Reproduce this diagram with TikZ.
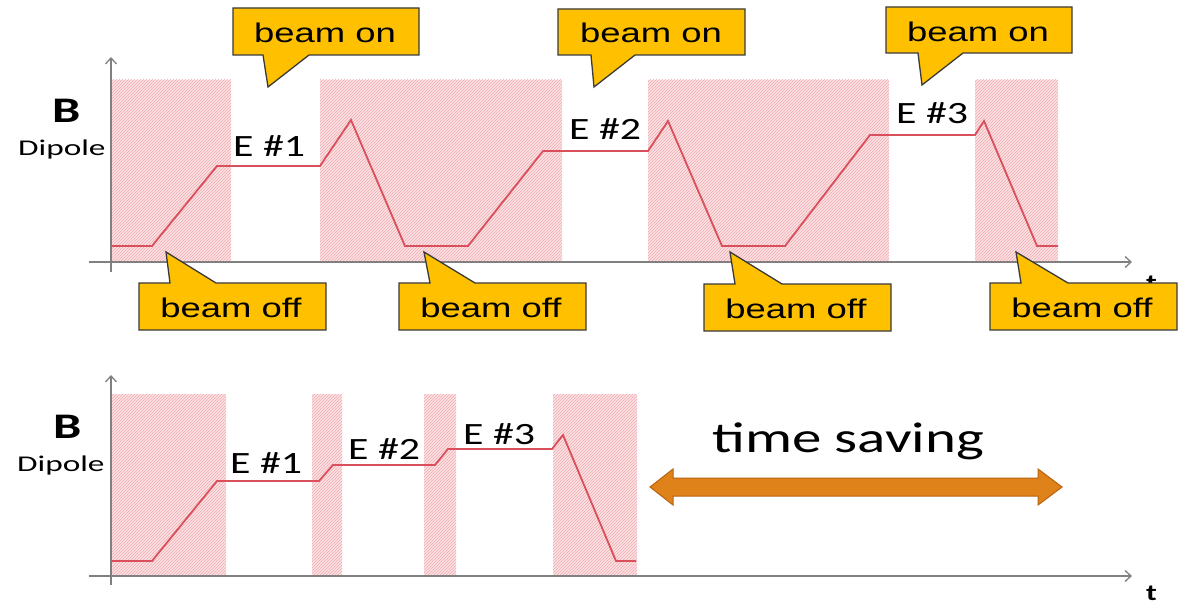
\documentclass[tikz,border=0pt]{standalone}
\usepackage{fontspec}
\setmainfont{Liberation Sans}
\newfontfamily\calfont{Carlito}
\usepackage{graphicx}
\usetikzlibrary{arrows.meta,patterns}
\definecolor{calloutfill}{HTML}{FFC000}
\definecolor{calloutline}{HTML}{3A3A3A}
\definecolor{shadefill}{HTML}{FBE2E4}
\definecolor{shadeline}{HTML}{F2ABB2}
\definecolor{curvecol}{HTML}{D9505C}
\definecolor{axiscol}{HTML}{808080}
\definecolor{arrowfill}{HTML}{E0821A}
\definecolor{arrowline}{HTML}{B8640E}
\newcommand\wid[2][1.35]{\scalebox{#1}[1]{#2}}
\begin{document}
\begin{tikzpicture}[x=1pt,y=-1pt,
  shadebox/.style={preaction={fill=shadefill}, pattern=north east lines, pattern color=shadeline},
  axisline/.style={draw=axiscol, line width=1.3pt, -{Straight Barb[length=6pt,width=11pt]}},
  curveline/.style={draw=curvecol, line width=1.8pt, line join=miter},
  callbox/.style={fill=calloutfill, draw=calloutline, line width=1.3pt, line join=miter},
  beamtxt/.style={inner sep=0pt, anchor=base, font=\fontsize{27}{30}\selectfont},
  elabel/.style={inner sep=0pt, anchor=base west, font=\calfont\fontsize{31}{34}\selectfont},
  blabel/.style={inner sep=0pt, anchor=base west, font=\calfont\bfseries\fontsize{36}{38}\selectfont},
  dlabel/.style={inner sep=0pt, anchor=base west, font=\calfont\fontsize{22.5}{24}\selectfont},
  tlabel/.style={inner sep=0pt, anchor=base west, font=\calfont\bfseries\fontsize{23}{25}\selectfont}
]
\useasboundingbox (0,0) rectangle (1194,604);
\fill[white] (0,0) rectangle (1194,604);

% ---------- top chart ----------
\path[shadebox] (111,80) rectangle (231,262);
\path[shadebox] (320,80) rectangle (562,262);
\path[shadebox] (648,80) rectangle (889,262);
\path[shadebox] (975,80) rectangle (1058,262);

\coordinate (ty0) at (111,272);
\coordinate (ty1) at (111,57);
\coordinate (tx0) at (89,262);
\coordinate (tx1) at (1132,262);
\draw[axisline] (ty0) -- (ty1);
\draw[axisline] (tx0) -- (tx1);

\draw[curveline] (111,246) -- (152,246) -- (217,166) -- (320,166) -- (351,120) -- (405,246)
  -- (468,246) -- (543,151) -- (648,151) -- (668,121) -- (722,246) -- (785,246)
  -- (870,135) -- (975,135) -- (984,121) -- (1037,246) -- (1058,246);

\node[blabel] (tB) at (52,123) {\wid[1.4]{B}};
\node[dlabel] (tDip) at (18,156) {\wid[1.48]{Dipole}};
\node[elabel] (tE1) at (233,157) {\wid{E \#1}};
\node[elabel] (tE2) at (569,140) {\wid{E \#2}};
\node[elabel] (tE3) at (896,124) {\wid{E \#3}};
\node[tlabel] (tt) at (1146,290) {\wid{t}};

% callouts top
\draw[callbox] (233,8) -- (419,8) -- (419,55) -- (309,55) -- (268,87) -- (263,55) -- (233,55) -- cycle;
\node[beamtxt] (on1) at (325,43) {\wid{beam on}};
\draw[callbox] (558,9) -- (745,9) -- (745,55) -- (635,55) -- (594,87) -- (591,55) -- (558,55) -- cycle;
\node[beamtxt] (on2) at (651,43) {\wid{beam on}};
\draw[callbox] (886,7) -- (1072,7) -- (1072,53) -- (963,53) -- (922,85) -- (918,53) -- (886,53) -- cycle;
\node[beamtxt] (on3) at (978,42) {\wid{beam on}};

\draw[callbox] (139,283) -- (170,283) -- (166,252) -- (216,283) -- (326,283) -- (326,330) -- (139,330) -- cycle;
\node[beamtxt] (off1) at (231,317) {\wid{beam off}};
\draw[callbox] (399,283) -- (430,283) -- (424,252) -- (475,283) -- (586,283) -- (586,330) -- (399,330) -- cycle;
\node[beamtxt] (off2) at (491,317) {\wid{beam off}};
\draw[callbox] (704,284) -- (735,284) -- (730,252) -- (782,284) -- (891,284) -- (891,331) -- (704,331) -- cycle;
\node[beamtxt] (off3) at (796,318) {\wid{beam off}};
\draw[callbox] (990,283) -- (1021,283) -- (1016,252) -- (1068,283) -- (1177,283) -- (1177,330) -- (990,330) -- cycle;
\node[beamtxt] (off4) at (1082,317) {\wid{beam off}};

% ---------- bottom chart ----------
\path[shadebox] (111,394) rectangle (226,576);
\path[shadebox] (312,394) rectangle (342,576);
\path[shadebox] (424,394) rectangle (456,576);
\path[shadebox] (553,394) rectangle (637,576);

\coordinate (by0) at (111,585);
\coordinate (by1) at (111,375);
\coordinate (bx0) at (89,576);
\coordinate (bx1) at (1132,576);
\draw[axisline] (by0) -- (by1);
\draw[axisline] (bx0) -- (bx1);

\draw[curveline] (111,561) -- (152,561) -- (217,481) -- (319,481) -- (333,465) -- (435,465)
  -- (448,449) -- (552,449) -- (563,435) -- (616,561) -- (636,561);

\node[blabel] (bB) at (53,438) {\wid[1.4]{B}};
\node[dlabel] (bDip) at (17,471) {\wid[1.48]{Dipole}};
\node[elabel] (bE1) at (230,473) {\wid{E \#1}};
\node[elabel] (bE2) at (348,459) {\wid{E \#2}};
\node[elabel] (bE3) at (463,444) {\wid{E \#3}};
\node[tlabel] (bt) at (1146,600) {\wid{t}};

\node[inner sep=0pt, anchor=base west, font=\calfont\fontsize{43}{46}\selectfont] (saving) at (712,452) {\wid[1.37]{time saving}};

\draw[fill=arrowfill, draw=arrowline, line width=1pt, line join=miter]
  (650,487) -- (673,469) -- (673,478) -- (1038,478) -- (1038,469) -- (1062,487)
  -- (1038,505) -- (1038,496) -- (673,496) -- (673,505) -- cycle;
\end{tikzpicture}
\end{document}
